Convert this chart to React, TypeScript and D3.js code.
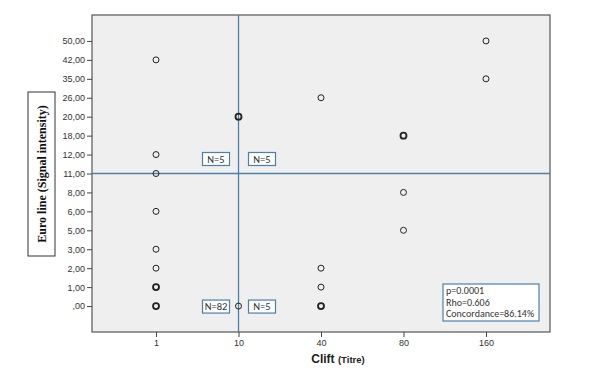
import React, { useRef, useEffect } from "react";
import * as d3 from "d3";

// ordinal categories
const titreCats = ["1", "10", "40", "80", "160"];
const signalCats = [",00", "1,00", "2,00", "3,00", "5,00", "6,00", "8,00", "11,00", "12,00", "18,00", "20,00", "26,00", "35,00", "42,00", "50,00"];

// observations (count > 1 where circles overlap)
const pointTitre = ["1", "1", "1", "1", "1", "1", "1", "1", "10", "10", "40", "40", "40", "40", "80", "80", "80", "160", "160"];
const pointSignal = ["42,00", "12,00", "11,00", "6,00", "3,00", "2,00", "1,00", ",00", "20,00", ",00", "26,00", "2,00", "1,00", ",00", "18,00", "8,00", "5,00", "50,00", "35,00"];
const pointCount = [1, 1, 1, 1, 1, 1, 2, 3, 2, 1, 1, 1, 1, 2, 2, 1, 1, 1, 1];

const cutTitre = "10";
const cutSignal = "11,00";
const quadrantLabels = ["N=5", "N=5", "N=82", "N=5"];
const statsLines = ["p=0.0001", "Rho=0.606", "Concordance=86.14%"];

const App = () => {
  const svgRef = useRef<SVGSVGElement>(null);

  useEffect(() => {
    const width = 605;
    const height = 372;
    const m = { left: 92, top: 15, right: 550, bottom: 332 };

    const svg = d3.select(svgRef.current).attr("width", width).attr("height", height);
    svg.selectAll("*").remove();

    const x = d3.scalePoint().domain(titreCats).range([m.left, m.right]).padding(0.776);
    const y = d3.scalePoint().domain(signalCats).range([m.bottom, m.top]).padding(1.37);

    // plot background
    svg.append("rect")
      .attr("x", m.left).attr("y", m.top)
      .attr("width", m.right - m.left).attr("height", m.bottom - m.top)
      .attr("fill", "#efefef").attr("stroke", "#555").attr("stroke-width", 1.2);

    // axes
    const yAxis = svg.append("g").attr("transform", `translate(${m.left},0)`)
      .call(d3.axisLeft(y).tickSize(5).tickPadding(2));
    const xAxis = svg.append("g").attr("transform", `translate(0,${m.bottom})`)
      .call(d3.axisBottom(x).tickSize(5).tickPadding(3));
    [yAxis, xAxis].forEach((a) => {
      a.select(".domain").remove();
      a.selectAll("line").attr("stroke", "#444");
      a.selectAll("text").attr("fill", "#333").style("font-family", "Arial, 'Liberation Sans', sans-serif").style("font-size", "9px");
    });

    // reference lines
    const lineColor = "#4a80ac";
    svg.append("line")
      .attr("x1", x(cutTitre)).attr("x2", x(cutTitre))
      .attr("y1", m.top).attr("y2", m.bottom)
      .attr("stroke", lineColor).attr("stroke-width", 1.3);
    svg.append("line")
      .attr("x1", m.left).attr("x2", m.right)
      .attr("y1", y(cutSignal)).attr("y2", y(cutSignal))
      .attr("stroke", lineColor).attr("stroke-width", 1.3);

    // points
    svg.append("g").selectAll("circle")
      .data(pointTitre.map((t, i) => ({ t, s: pointSignal[i], c: pointCount[i] })))
      .join("circle")
      .attr("cx", (d) => x(d.t))
      .attr("cy", (d) => y(d.s))
      .attr("r", 3)
      .attr("fill", "none")
      .attr("stroke", "#222")
      .attr("stroke-width", (d) => (d.c > 1 ? 1.8 : 1));

    // quadrant count boxes
    const cx = x(cutTitre);
    const boxW = 27;
    const boxH = 13;
    const boxPos = [
      { x: cx - 36, y: y(cutSignal) - 21 },
      { x: cx + 10, y: y(cutSignal) - 21 },
      { x: cx - 36, y: y(",00") - 6 },
      { x: cx + 10, y: y(",00") - 6 },
    ];
    const boxes = svg.append("g").selectAll("g").data(quadrantLabels).join("g")
      .attr("transform", (_d, i) => `translate(${boxPos[i].x},${boxPos[i].y})`);
    boxes.append("rect").attr("width", boxW).attr("height", boxH)
      .attr("fill", "#fff").attr("stroke", lineColor).attr("stroke-width", 1.2);
    boxes.append("text").attr("x", boxW / 2).attr("y", boxH / 2 + 3.7)
      .attr("text-anchor", "middle").attr("fill", "#333")
      .style("font-family", "Calibri, Carlito, 'Liberation Sans', sans-serif").style("font-size", "10.5px")
      .text((d) => d);

    // stats box
    const sb = svg.append("g").attr("transform", "translate(443,284)");
    sb.append("rect").attr("width", 96).attr("height", 37)
      .attr("fill", "#fff").attr("stroke", lineColor).attr("stroke-width", 1.2);
    sb.selectAll("text").data(statsLines).join("text")
      .attr("x", 3).attr("y", (_d, i) => 10 + i * 11.5)
      .attr("fill", "#333")
      .style("font-family", "Calibri, Carlito, 'Liberation Sans', sans-serif").style("font-size", "10px")
      .text((d) => d);

    // y title box
    svg.append("rect").attr("x", 28).attr("y", 92).attr("width", 27).attr("height", 164)
      .attr("fill", "#fff").attr("stroke", "#333").attr("stroke-width", 1);
    svg.append("text")
      .attr("transform", "translate(46,174) rotate(-90)")
      .attr("text-anchor", "middle")
      .style("font-family", "'Liberation Serif', 'Times New Roman', serif")
      .style("font-weight", "bold").style("font-size", "12px")
      .attr("fill", "#111")
      .text("Euro line (Signal intensity)");

    // x title
    const xt = svg.append("text").attr("x", 338).attr("y", 363).attr("text-anchor", "middle")
      .style("font-family", "Arial, 'Liberation Sans', sans-serif").style("font-weight", "bold").attr("fill", "#222");
    xt.append("tspan").style("font-size", "12px").text("Clift ");
    xt.append("tspan").style("font-size", "9.5px").text("(Titre)");
  }, []);

  return <svg ref={svgRef} style={{ position: "absolute", left: 0, top: 0 }}></svg>;
};

export default App;
